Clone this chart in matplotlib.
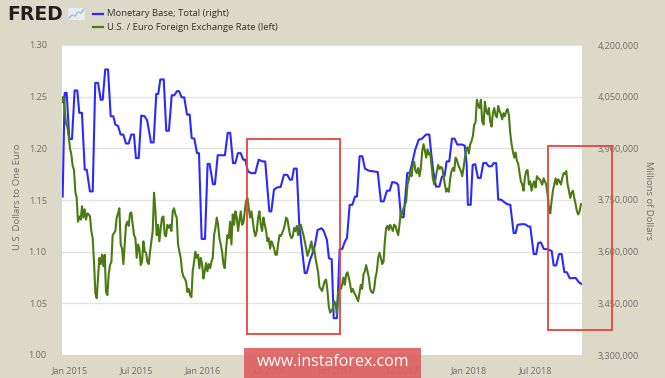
import matplotlib
matplotlib.use('Agg')
import matplotlib.pyplot as plt
import numpy as np
import pandas as pd
from matplotlib.patches import Rectangle
from matplotlib.lines import Line2D
import matplotlib.ticker as mticker

# ---------------- data ----------------
# Monetary Base; Total (right axis), millions of dollars, time in decimal years
base_t = [2014.945, 2014.960, 2014.975, 2014.995, 2015.015, 2015.035, 2015.055, 2015.070, 2015.090, 2015.111,
          2015.126, 2015.150, 2015.171, 2015.190, 2015.211, 2015.231, 2015.246, 2015.265, 2015.286, 2015.306,
          2015.326, 2015.341, 2015.361, 2015.381, 2015.401, 2015.421, 2015.441, 2015.461, 2015.481, 2015.496,
          2015.517, 2015.536, 2015.562, 2015.581, 2015.609, 2015.629, 2015.649, 2015.664, 2015.679, 2015.705,
          2015.724, 2015.744, 2015.765, 2015.784, 2015.805, 2015.820, 2015.840, 2015.859, 2015.880, 2015.900,
          2015.915, 2015.935, 2015.955, 2015.970, 2015.990, 2016.015, 2016.035, 2016.050, 2016.075, 2016.090,
          2016.111, 2016.165, 2016.186, 2016.205, 2016.226, 2016.243, 2016.263, 2016.284, 2016.303, 2016.318,
          2016.338, 2016.363, 2016.393, 2016.419, 2016.449, 2016.468, 2016.499, 2016.514, 2016.534, 2016.554,
          2016.584, 2016.609, 2016.634, 2016.654, 2016.669, 2016.684, 2016.705, 2016.724, 2016.765, 2016.780,
          2016.805, 2016.829, 2016.842, 2016.862, 2016.892, 2016.908, 2016.932, 2016.947, 2016.968, 2016.983,
          2017.008, 2017.028, 2017.047, 2017.068, 2017.083, 2017.103, 2017.123, 2017.143, 2017.158, 2017.178,
          2017.198, 2017.218, 2017.248, 2017.284, 2017.314, 2017.338, 2017.359, 2017.383, 2017.404, 2017.423,
          2017.453, 2017.468, 2017.489, 2017.509, 2017.536, 2017.556, 2017.596, 2017.622, 2017.647, 2017.677,
          2017.702, 2017.717, 2017.732, 2017.752, 2017.777, 2017.797, 2017.817, 2017.832, 2017.852, 2017.872,
          2017.892, 2017.912, 2017.947, 2017.968, 2017.983, 2017.992, 2018.013, 2018.028, 2018.047, 2018.068,
          2018.088, 2018.108, 2018.128, 2018.148, 2018.171, 2018.186, 2018.205, 2018.220, 2018.241, 2018.286,
          2018.311, 2018.336, 2018.351, 2018.366, 2018.401, 2018.426, 2018.446, 2018.461, 2018.487, 2018.506,
          2018.521, 2018.541, 2018.562, 2018.592, 2018.622, 2018.637, 2018.656, 2018.677, 2018.697, 2018.717,
          2018.737, 2018.757, 2018.777, 2018.802, 2018.827, 2018.847]
base_v = [3760000, 4061000, 4061000, 3927000, 3927000, 4068000, 4068000, 4003000, 4003000, 3838000,
          3838000, 3775000, 3775000, 4090000, 4090000, 4041000, 4041000, 4129000, 4129000, 3993000,
          3993000, 3969000, 3965000, 3940000, 3940000, 3914000, 3914000, 3940000, 3940000, 3872000,
          3872000, 3995000, 3993000, 3980000, 3917000, 3917000, 4058000, 4058000, 4100000, 4100000,
          3951000, 3951000, 4054000, 4054000, 4066000, 4066000, 4048000, 4048000, 3998000, 3998000,
          3930000, 3928000, 3886000, 3886000, 3637000, 3637000, 3855000, 3855000, 3796000, 3796000,
          3880000, 3880000, 3945000, 3945000, 3857000, 3857000, 3886000, 3886000, 3867000, 3867000,
          3833000, 3828000, 3828000, 3867000, 3862000, 3862000, 3717000, 3717000, 3780000, 3786000,
          3788000, 3823000, 3823000, 3809000, 3809000, 3841000, 3841000, 3678000, 3538000, 3538000,
          3576000, 3600000, 3620000, 3663000, 3668000, 3660000, 3634000, 3581000, 3578000, 3407000,
          3407000, 3608000, 3608000, 3630000, 3640000, 3736000, 3736000, 3760000, 3760000, 3877000,
          3877000, 3841000, 3835000, 3833000, 3831000, 3746000, 3746000, 3777000, 3777000, 3802000,
          3800000, 3794000, 3700000, 3700000, 3828000, 3830000, 3896000, 3925000, 3928000, 3940000,
          3940000, 3882000, 3833000, 3789000, 3789000, 3818000, 3820000, 3862000, 3862000, 3928000,
          3928000, 3911000, 3911000, 3908000, 3852000, 3736000, 3736000, 3852000, 3854000, 3814000,
          3814000, 3857000, 3858000, 3848000, 3848000, 3857000, 3857000, 3751000, 3751000, 3738000,
          3736000, 3654000, 3654000, 3678000, 3680000, 3679000, 3673000, 3673000, 3593000, 3593000,
          3625000, 3627000, 3608000, 3607000, 3602000, 3560000, 3560000, 3593000, 3593000, 3541000,
          3540000, 3523000, 3523000, 3524000, 3511000, 3506000]

# U.S. / Euro Foreign Exchange Rate (left axis), evenly spaced observations
fx_first = 2014.940
fx_last = 2018.842
fx_v = [1.245, 1.250, 1.238, 1.224, 1.221, 1.212, 1.200, 1.194, 1.183, 1.179,
        1.158, 1.152, 1.129, 1.134, 1.131, 1.144, 1.133, 1.141, 1.131, 1.137,
        1.136, 1.134, 1.120, 1.113, 1.090, 1.060, 1.055, 1.074, 1.094, 1.088,
        1.097, 1.086, 1.097, 1.061, 1.058, 1.078, 1.087, 1.090, 1.116, 1.118,
        1.120, 1.133, 1.137, 1.142, 1.107, 1.103, 1.088, 1.107, 1.126, 1.129,
        1.125, 1.137, 1.138, 1.126, 1.116, 1.113, 1.094, 1.107, 1.103, 1.087,
        1.090, 1.110, 1.100,
        1.099, 1.090, 1.088, 1.100, 1.110, 1.120, 1.157, 1.140, 1.116, 1.126,
        1.110, 1.123, 1.133, 1.134, 1.116, 1.115, 1.126, 1.123, 1.126, 1.120,
        1.139, 1.142, 1.136, 1.133, 1.107, 1.100, 1.094, 1.081, 1.076, 1.074,
        1.071, 1.061, 1.064, 1.058, 1.056, 1.081, 1.090, 1.100, 1.094, 1.097,
        1.084, 1.094, 1.088, 1.074, 1.081, 1.089, 1.081, 1.088, 1.084, 1.090,
        1.094, 1.116, 1.123, 1.133, 1.126, 1.113, 1.107, 1.100, 1.088, 1.084,
        1.103, 1.116, 1.113, 1.129,
        1.107, 1.136, 1.126, 1.139, 1.133, 1.120, 1.130, 1.139, 1.126, 1.128,
        1.139, 1.149, 1.152, 1.142, 1.133, 1.139, 1.130, 1.120, 1.115, 1.120,
        1.133, 1.139, 1.126, 1.120, 1.133, 1.126, 1.120, 1.110, 1.113, 1.103,
        1.110, 1.107, 1.103, 1.097, 1.097, 1.107, 1.116, 1.115, 1.118, 1.121,
        1.126, 1.133, 1.131, 1.123, 1.116, 1.113, 1.115, 1.123, 1.120, 1.125,
        1.116, 1.125, 1.126, 1.121, 1.116, 1.110, 1.103, 1.096, 1.100, 1.105,
        1.110, 1.100, 1.103, 1.094, 1.087, 1.080, 1.066, 1.064, 1.062, 1.067,
        1.072, 1.073, 1.062, 1.047, 1.041, 1.043, 1.045, 1.052, 1.050, 1.040,
        1.061, 1.064, 1.064, 1.068, 1.075, 1.068, 1.078, 1.080, 1.075, 1.068,
        1.061, 1.064, 1.060, 1.058, 1.055, 1.052, 1.060, 1.068, 1.064, 1.078,
        1.081, 1.087, 1.081, 1.075, 1.064, 1.061, 1.060, 1.064, 1.075, 1.081,
        1.094, 1.099, 1.094, 1.088, 1.090, 1.110, 1.123, 1.125, 1.121, 1.126,
        1.123, 1.120, 1.126, 1.125, 1.120, 1.116, 1.126, 1.139, 1.136, 1.142,
        1.145, 1.149, 1.165, 1.170, 1.178, 1.173, 1.184, 1.187, 1.178, 1.176,
        1.181, 1.173, 1.181, 1.197, 1.204, 1.198, 1.191, 1.199, 1.194, 1.196,
        1.184, 1.171, 1.165, 1.170, 1.178, 1.184, 1.180, 1.182, 1.181, 1.173,
        1.165, 1.158, 1.161, 1.158, 1.171, 1.178, 1.181, 1.178, 1.191, 1.189,
        1.184, 1.181, 1.178, 1.173, 1.181, 1.191, 1.199, 1.201, 1.195, 1.204,
        1.207, 1.212, 1.223, 1.225, 1.247, 1.242, 1.239, 1.247, 1.226, 1.223,
        1.245, 1.236, 1.233, 1.239, 1.226, 1.221, 1.234, 1.239, 1.232, 1.230,
        1.241, 1.236, 1.233, 1.228, 1.234, 1.231, 1.236, 1.238, 1.232, 1.215,
        1.204, 1.197, 1.191, 1.196, 1.188, 1.185, 1.176, 1.168, 1.165, 1.159,
        1.172, 1.178, 1.179, 1.165, 1.168, 1.159, 1.165, 1.168, 1.162, 1.173,
        1.171, 1.170, 1.168, 1.165, 1.171, 1.168, 1.165, 1.155, 1.142, 1.137,
        1.149, 1.159, 1.165, 1.171, 1.165, 1.170, 1.168, 1.165, 1.171, 1.176,
        1.175, 1.178, 1.165, 1.159, 1.152, 1.157, 1.159, 1.152, 1.146, 1.139,
        1.136, 1.139, 1.146]

x_ticks = ['2015-01-01', '2015-07-01', '2016-01-01', '2016-07-01',
           '2017-01-01', '2017-07-01', '2018-01-01', '2018-07-01']
x_labels = ['Jan 2015', 'Jul 2015', 'Jan 2016', 'Jul 2016',
            'Jan 2017', 'Jul 2017', 'Jan 2018', 'Jul 2018']
left_ticks = [1.00, 1.05, 1.10, 1.15, 1.20, 1.25, 1.30]
right_ticks = [3300000, 3450000, 3600000, 3750000, 3900000, 4050000, 4200000]
x_range = (2014.940, 2018.850)

legend_labels = ['Monetary Base; Total (right)', 'U.S. / Euro Foreign Exchange Rate (left)']


def to_dates(t):
    t = np.asarray(t, dtype=float)
    return pd.Timestamp('2015-01-01') + pd.to_timedelta((t - 2015.0) * 365.25, unit='D')


base_dates = to_dates(base_t)
fx_dates = to_dates(np.linspace(fx_first, fx_last, len(fx_v)))

# ---------------- style ----------------
BG = '#dcd9c9'
BLUE = '#2a2aff'
GREEN = '#4a7b12'
TICK_C = '#6e6e6e'
FONT = ['Open Sans', 'DejaVu Sans']
W, H = 665, 378

fig = plt.figure(figsize=(W / 100, H / 100), dpi=100)
fig.patch.set_facecolor(BG)

axR = fig.add_axes([62 / W, (H - 355) / H, 520 / W, 310 / H])
axL = axR.twinx()
axL.yaxis.tick_left()
axR.yaxis.tick_right()
axR.set_facecolor('white')
axL.patch.set_visible(False)
axL.set_zorder(axR.get_zorder() + 1)

axR.plot(base_dates, base_v, color=BLUE, lw=1.5, solid_joinstyle='round')
axL.plot(fx_dates, fx_v, color=GREEN, lw=1.5, solid_joinstyle='round')

axR.set_ylim(3300000, 4200000)
axL.set_ylim(1.00, 1.30)
axR.set_yticks(right_ticks)
axL.set_yticks(left_ticks)
axR.yaxis.set_major_formatter(mticker.FuncFormatter(lambda v, p: f'{int(round(v)):,}'))
axL.yaxis.set_major_formatter(mticker.FuncFormatter(lambda v, p: f'{v:.2f}'))
axR.set_xlim(to_dates([x_range[0]])[0], to_dates([x_range[1]])[0])
axR.set_xticks(pd.to_datetime(x_ticks))
axR.set_xticklabels(x_labels)

axR.grid(axis='y', color='#e3e3e3', lw=1)
axR.grid(axis='x', visible=False)
for a in (axR, axL):
    for s in a.spines.values():
        s.set_visible(False)
axR.tick_params(axis='y', length=0, pad=11, labelsize=6.5, labelcolor=TICK_C,
                left=False, labelleft=False, right=False, labelright=True)
axL.tick_params(axis='y', length=0, pad=11, labelsize=6.5, labelcolor=TICK_C,
                left=False, labelleft=True, right=False, labelright=False)
axR.tick_params(axis='x', length=0, pad=8, labelsize=6.5, labelcolor=TICK_C)
axL.tick_params(axis='x', length=0, labelbottom=False)
for lab in axR.get_xticklabels() + axR.get_yticklabels() + axL.get_yticklabels():
    lab.set_family(FONT)

# axis titles
fig.text(18 / W, (H - 197) / H, 'U.S. Dollars to One Euro', rotation=90, ha='center', va='center',
         fontsize=6.8, color=TICK_C, family=FONT)
fig.text(648 / W, (H - 200) / H, 'Millions of Dollars', rotation=270, ha='center', va='center',
         fontsize=6.8, color=TICK_C, family=FONT)

# FRED logo + icon
fig.text(7 / W, (H - 14) / H, 'FRED', fontsize=13.5, fontweight='heavy', color='#231f20',
         ha='left', va='center', family='DejaVu Sans')
fig.add_artist(Rectangle((68 / W, (H - 20) / H), 17 / W, 12 / H, transform=fig.transFigure,
                         facecolor='#e6ecee', edgecolor='none'))
fig.add_artist(Line2D(np.array([69, 72, 75, 78, 81, 84]) / W,
                      (H - np.array([18, 15, 16, 12, 13, 9])) / H,
                      transform=fig.transFigure, color='#9dbfd0', lw=1.0))

# legend
for i, (lab, col) in enumerate(zip(legend_labels, [BLUE, GREEN])):
    yy = (H - (14 + 13 * i)) / H
    fig.add_artist(Line2D([93 / W, 103 / W], [yy, yy], transform=fig.transFigure, color=col, lw=1.6))
    fig.text(107 / W, yy, lab, fontsize=6.8, color='#333333', ha='left', va='center', family=FONT)

# red highlight boxes
for (x0, y0, x1, y1) in [(247, 139, 340, 334), (548, 146, 612, 330)]:
    fig.add_artist(Rectangle((x0 / W, (H - y1) / H), (x1 - x0) / W, (y1 - y0) / H,
                             transform=fig.transFigure, fill=False, edgecolor='#e8433d',
                             lw=1.3, zorder=20))

# watermark
fig.add_artist(Rectangle((244 / W, 0), 177 / W, 30 / H, transform=fig.transFigure,
                         facecolor='#de5e5e', edgecolor='none', alpha=0.9, zorder=21))
fig.text(333 / W, (H - 362) / H, 'www.instaforex.com', fontsize=11.5, color='white',
         ha='center', va='center', family=FONT, zorder=22)

fig.savefig('out.png', dpi=100, facecolor=BG)
